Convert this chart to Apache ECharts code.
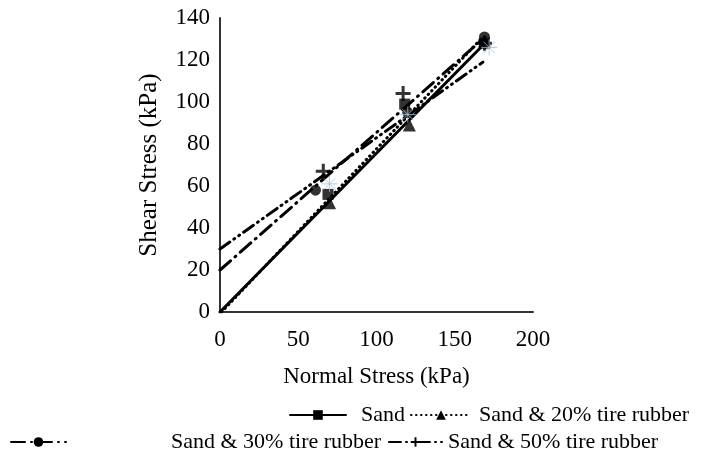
<!DOCTYPE html>
<html>
<head>
<meta charset="utf-8">
<script src="https://cdn.jsdelivr.net/npm/echarts@6/dist/echarts.min.js"></script>
<style>html,body{margin:0;padding:0;background:#fff}#c{width:707px;height:464px}</style>
</head>
<body>
<div id="c"></div>
<script>
// Measured points (Normal stress kPa, Shear stress kPa)
var sandPts   = [[69, 56], [118, 99], [169, 128]];
var r20Pts    = [[70, 52], [121, 89], [169, 129]];
var r30Pts    = [[61, 58], [120, 95], [169, 131]];
var r50Pts    = [[66, 67], [117, 104], [169, 128]];
var extraPts  = [[70, 61], [120, 94], [172, 126]];
// Trend lines (start and end points)
var sandTrend = [[0, 0], [168, 127]];
var r20Trend  = [[1, 0], [168, 131]];
var r30Trend  = [[0, 20], [168, 130]];
var r50Trend  = [[0, 30], [168, 119]];
var xTicks = {min: 0, max: 200, interval: 50};
var yTicks = {min: 0, max: 140, interval: 20};
var names = ['Sand', 'Sand & 20% tire rubber', 'Sand & 30% tire rubber', 'Sand & 50% tire rubber'];

var FONT = 'Liberation Serif';
var plusPath = 'path://M4,0H6V4H10V6H6V10H4V6H0V4H4Z';
var starPath = 'path://M5,0L5,10M0,5L10,5M1.5,1.5L8.5,8.5M8.5,1.5L1.5,8.5';

function trendSeries(name, pts, sym, size, lineType) {
  return {
    name: name, type: 'line', symbol: sym, symbolSize: size,
    data: pts.map(function (p) { return {value: p, symbol: 'none'}; }),
    lineStyle: {color: '#000', width: 3, type: lineType, cap: 'round'},
    itemStyle: {color: '#000'},
    z: 2, silent: true, animation: false
  };
}
function markSeries(name, pts, sym, size) {
  return {
    name: name, type: 'scatter', symbol: sym, symbolSize: size,
    data: pts, itemStyle: {color: '#000'}, z: 3, animation: false
  };
}
function legendAt(name, left, top, pad, w) {
  return {
    data: [name], left: left, top: top, padding: 0, width: 800,
    itemWidth: w, itemHeight: 12, selectedMode: false,
    textStyle: {fontFamily: FONT, fontSize: 22, color: '#000', padding: [0, 0, 0, pad]}
  };
}

var chart = echarts.init(document.getElementById('c'), null, {renderer: 'canvas'});
chart.setOption({
  backgroundColor: '#fff',
  animation: false,
  grid: {left: 220, right: 174, top: 18, bottom: 152},
  legend: [
    legendAt(names[0], 289, 404, 10, 56),
    legendAt(names[1], 410, 404, 3, 60),
    legendAt(names[2], 10, 431, 100, 55),
    legendAt(names[3], 388, 431, 1, 53)
  ],
  xAxis: {
    type: 'value', min: xTicks.min, max: xTicks.max, interval: xTicks.interval,
    name: 'Normal Stress (kPa)', nameLocation: 'middle', nameGap: 53,
    nameTextStyle: {fontFamily: FONT, fontSize: 23, color: '#000'},
    axisLine: {show: true, lineStyle: {color: '#333', width: 2}},
    axisTick: {show: false}, splitLine: {show: false},
    axisLabel: {fontFamily: FONT, fontSize: 23, color: '#000', margin: 16}
  },
  yAxis: {
    type: 'value', min: yTicks.min, max: yTicks.max, interval: yTicks.interval,
    name: 'Shear Stress (kPa)', nameLocation: 'middle', nameGap: 58, nameRotate: 90,
    nameTextStyle: {fontFamily: FONT, fontSize: 25, color: '#000'},
    axisLine: {show: true, lineStyle: {color: '#333', width: 2}},
    axisTick: {show: false}, splitLine: {show: false},
    axisLabel: {fontFamily: FONT, fontSize: 23, color: '#000', margin: 10}
  },
  series: [
    trendSeries(names[0], sandTrend, 'rect', 11, 'solid'),
    trendSeries(names[1], r20Trend, 'triangle', 12, [0.5, 4.5]),
    trendSeries(names[2], r30Trend, 'circle', 11, [14, 6, 1, 6]),
    trendSeries(names[3], r50Trend, plusPath, 13, [12, 5, 1, 5, 1, 5]),
    markSeries('p-sand', sandPts, 'rect', 11),
    markSeries('p-20', r20Pts, 'triangle', 13),
    markSeries('p-30', r30Pts, 'circle', 11),
    markSeries('p-50', r50Pts, plusPath, 15),
    {
      name: 'p-extra', type: 'scatter', symbol: starPath, symbolSize: 16, data: extraPts,
      itemStyle: {color: 'none', borderColor: '#9cc3e0', borderWidth: 1}, z: 4
    }
  ]
});
</script>
</body>
</html>
